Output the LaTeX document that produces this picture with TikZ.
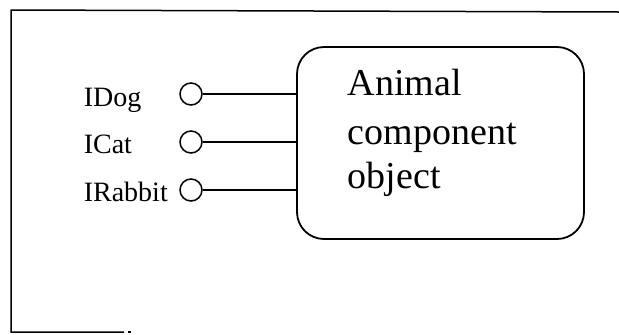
\documentclass[tikz,border=0pt]{standalone}
\usepackage{fontspec}
\setmainfont{Liberation Serif}
\begin{document}
\begin{tikzpicture}[x=1bp,y=-1bp,
  line width=1.6bp,
  port/.style={draw,circle,minimum size=22bp,inner sep=0pt,line width=1.5bp},
  iname/.style={anchor=base west,inner sep=0pt,font=\fontsize{28bp}{30bp}\selectfont},
  objtext/.style={anchor=base west,inner sep=0pt,font=\fontsize{38bp}{44bp}\selectfont},
  compbox/.style={draw,rounded corners=27bp,minimum width=287bp,minimum height=192bp,inner sep=0pt,line width=1.8bp}]
\useasboundingbox (0,0) rectangle (619,334);

% outer frame
\draw[line width=1.5bp] (619,12) -- (11,10) -- (11,332) -- (124,332);
\draw[line width=1.5bp] (128,332) -- (131,332);

% component object
\node[compbox] (box) at (440.5,143) {};
\node[objtext] (t1) at (347,95) {Animal};
\node[objtext] (t2) at (347,144) {component};
\node[objtext] (t3) at (347,188) {object};

% interface labels
\node[iname] (ldog) at (83,106) {IDog};
\node[iname] (lcat) at (83,153) {ICat};
\node[iname] (lrab) at (83,201) {IRabbit};

% interface ports
\node[port] (pdog) at (191,94) {};
\node[port] (pcat) at (191,142) {};
\node[port] (prab) at (191,190) {};

% connectors from ports to the object
\draw (pdog) -- (pdog -| box.west);
\draw (pcat) -- (pcat -| box.west);
\draw (prab) -- (prab -| box.west);
\end{tikzpicture}
\end{document}
